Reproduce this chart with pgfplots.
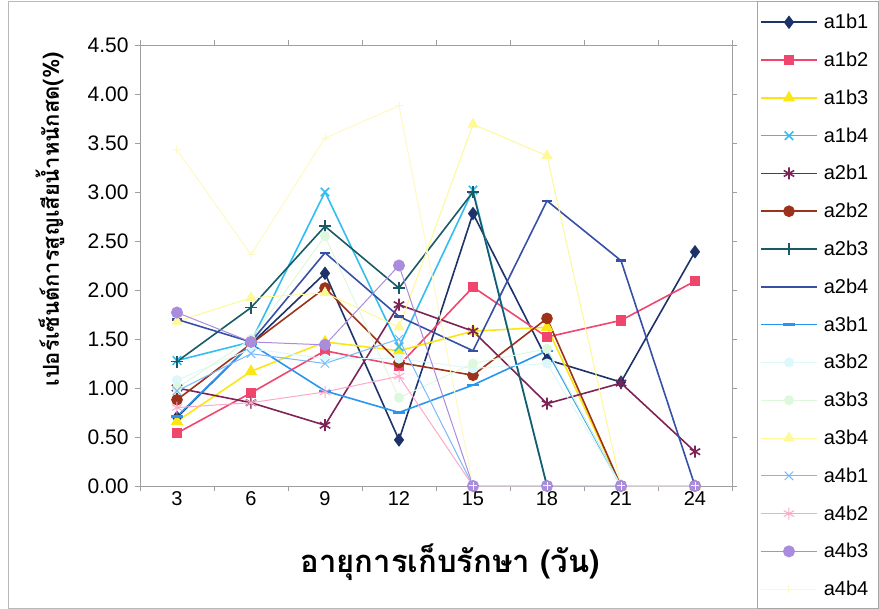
\documentclass[border=0pt]{standalone}
\usepackage{pgfplots}
\pgfplotsset{compat=1.18}
\usepackage{pgfplotstable}
\usepackage{fontspec}
\setmainfont{Liberation Sans}
\newfontfamily\thaifont[Script=Thai]{Loma}

\definecolor{c1}{RGB}{28,50,105}
\definecolor{c2}{RGB}{240,70,110}
\definecolor{c3}{RGB}{250,230,20}
\definecolor{c4}{RGB}{50,190,240}
\definecolor{c5}{RGB}{125,35,85}
\definecolor{c6}{RGB}{155,50,25}
\definecolor{c7}{RGB}{25,90,100}
\definecolor{c8}{RGB}{55,80,165}
\definecolor{c9}{RGB}{40,150,240}
\definecolor{c10}{RGB}{220,248,250}
\definecolor{c11}{RGB}{222,248,222}
\definecolor{c12}{RGB}{255,248,150}
\definecolor{c13}{RGB}{120,185,250}
\definecolor{c14}{RGB}{250,170,200}
\definecolor{c15}{RGB}{170,140,220}
\definecolor{c16}{RGB}{255,248,195}

\pgfplotstableread{
x  a1b1 a1b2 a1b3 a1b4 a2b1 a2b2 a2b3 a2b4 a3b1 a3b2 a3b3 a3b4 a4b1 a4b2 a4b3 a4b4
3  0.70 0.54 0.66 1.28 1.00 0.88 1.27 1.70 0.71 1.08 1.00 1.68 0.97 0.80 1.77 3.43
6  1.45 0.95 1.17 1.47 0.85 1.45 1.82 1.47 1.45 1.40 1.50 1.92 1.35 0.85 1.47 2.36
9  2.17 1.38 1.47 3.00 0.62 2.02 2.65 2.38 0.97 1.30 2.55 1.97 1.25 0.96 1.44 3.55
12 0.47 1.23 1.38 1.42 1.85 1.26 2.02 1.73 0.75 1.30 0.90 1.62 1.50 1.12 2.25 3.88
15 2.78 2.03 1.58 3.02 1.58 1.13 3.00 1.38 1.03 1.20 1.25 3.69 0 0 0 0
18 1.29 1.52 1.62 0 0.84 1.71 0 2.91 1.38 1.25 1.40 3.37 0 0 0 0
21 1.06 1.69 0 0 1.05 0 0 2.30 0 0 0 0 0 0 0 0
24 2.39 2.09 0 0 0.35 0 0 0 0 0 0 0 0 0 0 0
}\data

\begin{document}
\begin{tikzpicture}
\path (0pt,0pt) rectangle (879pt,609pt);
\draw[gray!55, line width=0.8pt] (8pt,1pt) rectangle (878pt,608pt);
\draw[gray!70, line width=0.8pt] (757pt,1pt) rectangle (878pt,608pt);
\begin{axis}[
  at={(140pt,123pt)}, anchor=south west,
  scale only axis, width=592pt, height=441pt,
  xmin=1.5, xmax=25.5, ymin=0, ymax=4.5,
  clip=false,
  axis line style={gray!75, line width=0.8pt},
  tick style={gray!75, line width=0.8pt},
  tick align=outside, major tick length=5pt,
  xtick={1.5,4.5,...,25.5}, xticklabels={},
  extra x ticks={3,6,9,12,15,18,21,24},
  extra x tick style={major tick length=0pt, tick style={draw=none}},
  ytick={0,0.5,...,4.5},
  /pgf/number format/assume math mode=true,
  yticklabel style={/pgf/number format/.cd, fixed, fixed zerofill, precision=2, /tikz/.cd, font=\fontsize{21}{24}\selectfont, xshift=-3pt},
  xticklabel style={font=\fontsize{20}{24}\selectfont, yshift=-2pt},
  xlabel={\thaifont\bfseries อายุการเก็บรักษา (วัน)},
  ylabel={\thaifont\bfseries เปอร์เซ็นต์การสูญเสียน้ำหนักสด(\%)},
  xlabel style={font=\fontsize{31}{35}\selectfont, at={(axis description cs:0.524,-0.172)}, anchor=center},
  ylabel style={font=\fontsize{22}{26}\selectfont, at={(axis description cs:-0.152,0.605)}, anchor=center},
  legend cell align=left,
  legend style={at={(axis description cs:1.0422,1.0746)}, anchor=north west, draw=none, fill=none,
    font=\fontsize{20}{24}\selectfont, row sep=21.8pt, column sep=6pt,
    nodes={inner sep=0pt}},
  legend image code/.code={\draw[mark=none] (0pt,0pt) -- (56pt,0pt); \draw[only marks] plot coordinates {(28pt,0pt)};},
]
\addplot[c1, line width=1.6pt, mark=diamond*, mark size=5.5pt, mark options={solid,fill=c1}] table[x=x,y=a1b1]{\data};
\addlegendentry{a1b1}
\addplot[c2, line width=1.6pt, mark=square*, mark size=4.5pt, mark options={solid,fill=c2}] table[x=x,y=a1b2]{\data};
\addlegendentry{a1b2}
\addplot[c3, line width=1.6pt, mark=triangle*, mark size=5.5pt, mark options={solid,fill=c3}] table[x=x,y=a1b3]{\data};
\addlegendentry{a1b3}
\addplot[c4, line width=1.6pt, mark=x, mark size=6pt, mark options={solid}, legend image post style={line width=1.6pt}] table[x=x,y=a1b4]{\data};
\addlegendentry{a1b4}
\addplot[c5, line width=1.6pt, mark=asterisk, mark size=6pt, mark options={solid}, legend image post style={line width=1.6pt}] table[x=x,y=a2b1]{\data};
\addlegendentry{a2b1}
\addplot[c6, line width=1.6pt, mark=*, mark size=5pt, mark options={solid,fill=c6}] table[x=x,y=a2b2]{\data};
\addlegendentry{a2b2}
\addplot[c7, line width=1.6pt, mark=+, mark size=6pt, mark options={solid}] table[x=x,y=a2b3]{\data};
\addlegendentry{a2b3}
\addplot[c8, line width=1.6pt, mark=-, mark size=5pt, mark options={solid, line width=2.5pt}] table[x=x,y=a2b4]{\data};
\addlegendentry{a2b4}
\addplot[c9, line width=1.6pt, mark=-, mark size=6pt, mark options={solid, line width=2.5pt}] table[x=x,y=a3b1]{\data};
\addlegendentry{a3b1}
\addplot[c10, line width=1.0pt, mark=*, mark size=4.5pt, mark options={solid,fill=c10}] table[x=x,y=a3b2]{\data};
\addlegendentry{a3b2}
\addplot[c11, line width=1.0pt, mark=*, mark size=4.5pt, mark options={solid,fill=c11}] table[x=x,y=a3b3]{\data};
\addlegendentry{a3b3}
\addplot[c12, line width=1.0pt, mark=triangle*, mark size=5.5pt, mark options={solid,fill=c12}] table[x=x,y=a3b4]{\data};
\addlegendentry{a3b4}
\addplot[c13, line width=1.0pt, mark=x, mark size=6pt, mark options={solid}, legend image post style={line width=1.0pt}] table[x=x,y=a4b1]{\data};
\addlegendentry{a4b1}
\addplot[c14, line width=1.0pt, mark=asterisk, mark size=6pt, mark options={solid}, legend image post style={line width=1.0pt}] table[x=x,y=a4b2]{\data};
\addlegendentry{a4b2}
\addplot[c15, line width=1.0pt, mark=*, mark size=5.5pt, mark options={solid,fill=c15}] table[x=x,y=a4b3]{\data};
\addlegendentry{a4b3}
\addplot[c16, line width=1.0pt, mark=+, mark size=4pt, mark options={solid}] table[x=x,y=a4b4]{\data};
\addlegendentry{a4b4}
\end{axis}
\end{tikzpicture}
\end{document}
